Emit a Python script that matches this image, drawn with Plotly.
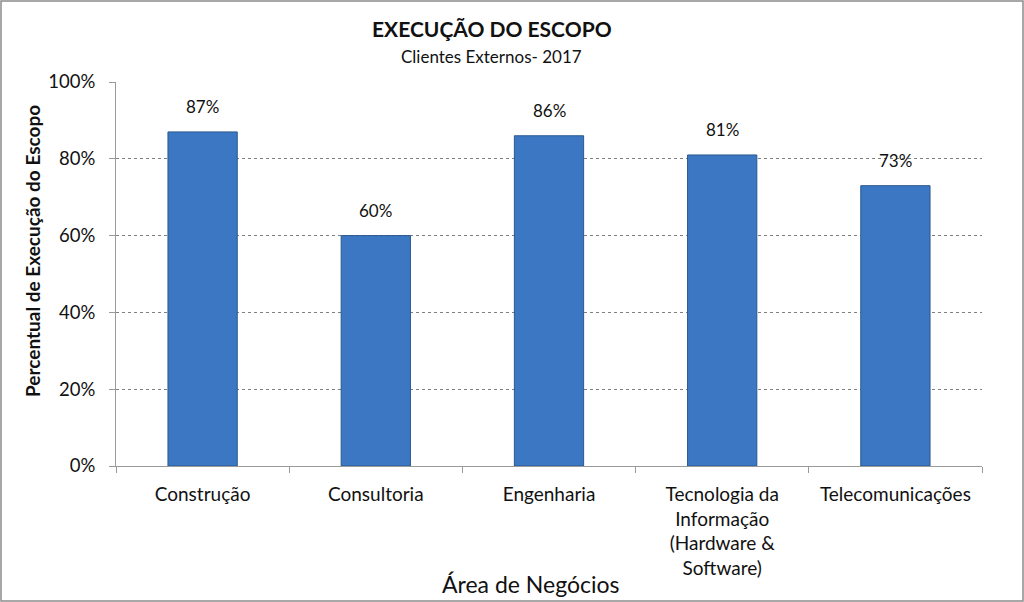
import plotly.graph_objects as go

# dados do gráfico
areas = ["Construção", "Consultoria", "Engenharia",
         "Tecnologia da<br>Informação<br>(Hardware &<br>Software)", "Telecomunicações"]
execucao = [0.87, 0.60, 0.86, 0.81, 0.73]
rotulos = ["87%", "60%", "86%", "81%", "73%"]

W, H = 1024, 602
ML, MR, MT, MB = 116, 42, 82, 136
FONTE = "Lato, 'Open Sans', sans-serif"
pw, ph = W - ML - MR, H - MT - MB


def px_x(p):
    # pixel -> coordenada paper (horizontal)
    return (p - ML) / pw


def px_y(p):
    # pixel -> coordenada paper (vertical)
    return (H - MB - p) / ph


fig = go.Figure()
fig.add_trace(go.Bar(
    x=areas, y=execucao, width=0.4,
    marker=dict(color="#3b77c2", line=dict(color="#2b5890", width=1)),
    showlegend=False, hoverinfo="skip",
))

# rótulos de valor acima das barras
for area, v, r in zip(areas, execucao, rotulos):
    fig.add_annotation(x=area, y=v, text=r, showarrow=False, yanchor="bottom",
                       yshift=13, font=dict(size=17, color="#111111"))

# borda externa da figura
fig.add_shape(type="rect", xref="paper", yref="paper",
              x0=px_x(1), x1=px_x(W - 1), y0=px_y(H - 1), y1=px_y(1),
              line=dict(color="#8c8c8c", width=1.5))

# títulos como anotações
anot = dict(xref="paper", yref="paper", showarrow=False, xanchor="center", yanchor="middle")
fig.add_annotation(text="<b>EXECUÇÃO DO ESCOPO</b>", x=px_x(492), y=px_y(28),
                   font=dict(size=21), **anot)
fig.add_annotation(text="Clientes Externos- 2017", x=px_x(491), y=px_y(57),
                   font=dict(size=17), **anot)
fig.add_annotation(text="<b>Percentual de Execução do Escopo</b>", x=px_x(32), y=px_y(251),
                   textangle=-90, font=dict(size=19), **anot)
fig.add_annotation(text="Área de Negócios", x=px_x(531), y=px_y(584),
                   font=dict(size=23), **anot)

fig.update_layout(
    width=W, height=H,
    margin=dict(l=ML, r=MR, t=MT, b=MB, autoexpand=False),
    paper_bgcolor="white", plot_bgcolor="white",
    font=dict(family=FONTE, color="#111111"),
    bargap=0.6,
)
fig.update_xaxes(
    showline=True, linecolor="#9a9a9a", linewidth=1,
    ticks="outside", tickson="boundaries", ticklen=6, tickcolor="#9a9a9a",
    tickfont=dict(size=19), showgrid=False, automargin=False,
    ticklabelstandoff=11,
)
fig.update_yaxes(
    range=[0, 1], dtick=0.2, tickformat=".0%",
    showline=True, linecolor="#9a9a9a", linewidth=1,
    ticks="outside", ticklen=6, tickcolor="#9a9a9a",
    tickfont=dict(size=18.5), automargin=False, ticklabelstandoff=10,
    showgrid=True, gridcolor="#7f7f7f", griddash="dot", gridwidth=1,
    zeroline=False,
)

# tira a margem padrão do <body> para o gráfico ocupar a janela inteira
fig.write_html("out.html", config={"displayModeBar": False},
               post_script="document.body.style.margin='0';")
